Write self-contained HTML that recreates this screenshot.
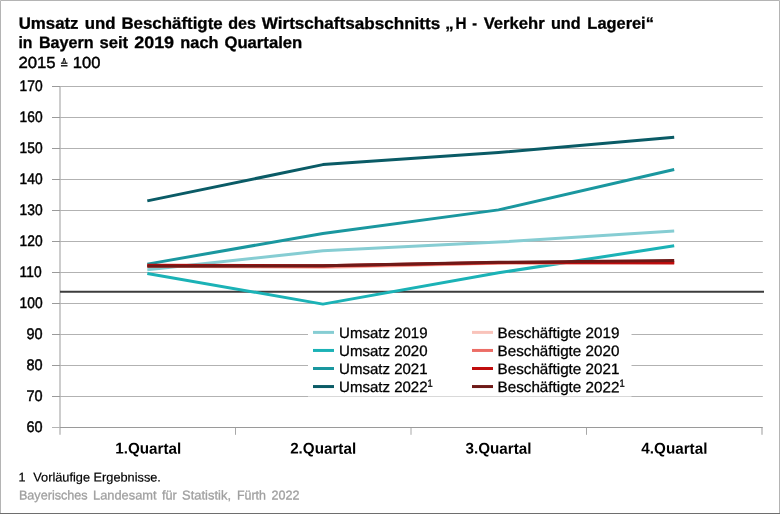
<!DOCTYPE html>
<html lang="de"><head><meta charset="utf-8"><title>Umsatz und Beschäftigte – Verkehr und Lagerei</title>
<style>html,body{margin:0;padding:0;background:#fff}svg{display:block}
text{font-family:"Liberation Sans","DejaVu Sans",sans-serif;fill:#000}
.b{font-weight:bold}</style></head><body>
<svg width="780" height="514" viewBox="0 0 780 514">
<rect x="0" y="0" width="780" height="514" fill="#fff"/>
<path d="M0.5 514 V0.5 H779.5 V514" fill="none" stroke="#b4b4b4" stroke-width="1"/>
<line x1="0" y1="513.5" x2="780" y2="513.5" stroke="#6e6e6e" stroke-width="1"/>
<line x1="60.0" y1="87" x2="60.0" y2="434.8" stroke="#cdcdcd" stroke-width="2"/>
<line x1="762.0" y1="428" x2="762.0" y2="434.8" stroke="#cdcdcd" stroke-width="2"/>
<line x1="52" y1="86.5" x2="60.0" y2="86.5" stroke="#9a9a9a" stroke-width="1"/>
<line x1="60.0" y1="86.5" x2="762.8" y2="86.5" stroke="#b2b2b2" stroke-width="1"/>
<line x1="52" y1="117.5" x2="60.0" y2="117.5" stroke="#9a9a9a" stroke-width="1"/>
<line x1="60.0" y1="117.5" x2="762.8" y2="117.5" stroke="#b2b2b2" stroke-width="1"/>
<line x1="52" y1="148.5" x2="60.0" y2="148.5" stroke="#9a9a9a" stroke-width="1"/>
<line x1="60.0" y1="148.5" x2="762.8" y2="148.5" stroke="#b2b2b2" stroke-width="1"/>
<line x1="52" y1="179.5" x2="60.0" y2="179.5" stroke="#9a9a9a" stroke-width="1"/>
<line x1="60.0" y1="179.5" x2="762.8" y2="179.5" stroke="#b2b2b2" stroke-width="1"/>
<line x1="52" y1="210.5" x2="60.0" y2="210.5" stroke="#9a9a9a" stroke-width="1"/>
<line x1="60.0" y1="210.5" x2="762.8" y2="210.5" stroke="#b2b2b2" stroke-width="1"/>
<line x1="52" y1="241.5" x2="60.0" y2="241.5" stroke="#9a9a9a" stroke-width="1"/>
<line x1="60.0" y1="241.5" x2="762.8" y2="241.5" stroke="#b2b2b2" stroke-width="1"/>
<line x1="52" y1="272.5" x2="60.0" y2="272.5" stroke="#9a9a9a" stroke-width="1"/>
<line x1="60.0" y1="272.5" x2="762.8" y2="272.5" stroke="#b2b2b2" stroke-width="1"/>
<line x1="52" y1="303.5" x2="60.0" y2="303.5" stroke="#9a9a9a" stroke-width="1"/>
<line x1="60.0" y1="303.5" x2="762.8" y2="303.5" stroke="#b2b2b2" stroke-width="1"/>
<line x1="52" y1="334.5" x2="60.0" y2="334.5" stroke="#9a9a9a" stroke-width="1"/>
<line x1="60.0" y1="334.5" x2="762.8" y2="334.5" stroke="#b2b2b2" stroke-width="1"/>
<line x1="52" y1="365.5" x2="60.0" y2="365.5" stroke="#9a9a9a" stroke-width="1"/>
<line x1="60.0" y1="365.5" x2="762.8" y2="365.5" stroke="#b2b2b2" stroke-width="1"/>
<line x1="52" y1="396.5" x2="60.0" y2="396.5" stroke="#9a9a9a" stroke-width="1"/>
<line x1="60.0" y1="396.5" x2="762.8" y2="396.5" stroke="#b2b2b2" stroke-width="1"/>
<line x1="52" y1="427.5" x2="60.0" y2="427.5" stroke="#b4b4b4" stroke-width="1"/>
<line x1="60.0" y1="427.5" x2="762.8" y2="427.5" stroke="#9a9a9a" stroke-width="1"/>
<line x1="235.5" y1="428" x2="235.5" y2="434.8" stroke="#a8a8a8" stroke-width="1"/>
<line x1="411.0" y1="428" x2="411.0" y2="434.8" stroke="#a8a8a8" stroke-width="1"/>
<line x1="586.5" y1="428" x2="586.5" y2="434.8" stroke="#a8a8a8" stroke-width="1"/>
<line x1="60.0" y1="291.75" x2="764" y2="291.75" stroke="#3c3c3c" stroke-width="1.8"/>
<rect x="308" y="320" width="323.5" height="76.5" fill="#fff"/>
<polyline points="147.30,269.71 322.90,250.80 498.55,242.12 674.20,230.96" fill="none" stroke="#86cdd3" stroke-width="3" stroke-linejoin="round"/>
<polyline points="147.30,273.43 322.90,304.12 498.55,272.81 674.20,245.84" fill="none" stroke="#1bb2b6" stroke-width="3" stroke-linejoin="round"/>
<polyline points="147.30,264.13 322.90,233.44 498.55,209.88 674.20,169.58" fill="none" stroke="#1a979f" stroke-width="3" stroke-linejoin="round"/>
<polyline points="147.30,200.89 322.90,164.62 498.55,152.53 674.20,137.34" fill="none" stroke="#0a5b66" stroke-width="3" stroke-linejoin="round"/>
<polyline points="147.30,266.30 322.90,267.54 498.55,263.20 674.20,262.27" fill="none" stroke="#f9c3ba" stroke-width="3" stroke-linejoin="round"/>
<polyline points="147.30,265.68 322.90,266.61 498.55,262.89 674.20,262.58" fill="none" stroke="#ec6d66" stroke-width="3" stroke-linejoin="round"/>
<polyline points="147.30,265.37 322.90,265.68 498.55,262.58 674.20,263.05" fill="none" stroke="#c00d0d" stroke-width="3" stroke-linejoin="round"/>
<polyline points="147.30,266.30 322.90,265.68 498.55,262.27 674.20,260.56" fill="none" stroke="#6e1917" stroke-width="3" stroke-linejoin="round"/>
<line x1="313" y1="332.40" x2="334" y2="332.40" stroke="#86cdd3" stroke-width="3"/>
<line x1="313" y1="350.45" x2="334" y2="350.45" stroke="#1bb2b6" stroke-width="3"/>
<line x1="313" y1="368.50" x2="334" y2="368.50" stroke="#1a979f" stroke-width="3"/>
<line x1="313" y1="386.55" x2="334" y2="386.55" stroke="#0a5b66" stroke-width="3"/>
<line x1="472" y1="332.40" x2="493" y2="332.40" stroke="#f9c3ba" stroke-width="3"/>
<line x1="472" y1="350.45" x2="493" y2="350.45" stroke="#ec6d66" stroke-width="3"/>
<line x1="472" y1="368.50" x2="493" y2="368.50" stroke="#c00d0d" stroke-width="3"/>
<line x1="472" y1="386.55" x2="493" y2="386.55" stroke="#6e1917" stroke-width="3"/>
<text class="b" transform="translate(18.68 28.80) skewY(0.05) scale(1.0197 1)" font-size="16.5" stroke="#000" stroke-width="0.3">Umsatz</text>
<text class="b" transform="translate(84.75 28.80) skewY(0.05) scale(1.0204 1)" font-size="16.5" stroke="#000" stroke-width="0.3">und</text>
<text class="b" transform="translate(121.40 28.80) skewY(0.05) scale(1.0231 1)" font-size="16.5" stroke="#000" stroke-width="0.3">Beschäftigte</text>
<text class="b" transform="translate(228.18 28.80) skewY(0.05) scale(0.9765 1)" font-size="16.5" stroke="#000" stroke-width="0.3">des</text>
<text class="b" transform="translate(261.74 28.80) skewY(0.05) scale(1.0378 1)" font-size="16.5" stroke="#000" stroke-width="0.3">Wirtschaftsabschnitts</text>
<text class="b" transform="translate(445.34 28.80) skewY(0.05) scale(1.0177 1)" font-size="16.5" stroke="#000" stroke-width="0.3">„</text>
<text class="b" transform="translate(455.62 28.80) skewY(0.05) scale(0.9256 1)" font-size="16.5" stroke="#000" stroke-width="0.3">H</text>
<text class="b" transform="translate(472.36 28.80) skewY(0.05) scale(0.8643 1)" font-size="16.5" stroke="#000" stroke-width="0.3">-</text>
<text class="b" transform="translate(483.66 28.80) skewY(0.05) scale(1.0083 1)" font-size="16.5" stroke="#000" stroke-width="0.3">Verkehr</text>
<text class="b" transform="translate(550.90 28.80) skewY(0.05) scale(0.9815 1)" font-size="16.5" stroke="#000" stroke-width="0.3">und</text>
<text class="b" transform="translate(587.37 28.80) skewY(0.05) scale(0.9945 1)" font-size="16.5" stroke="#000" stroke-width="0.3">Lagerei“</text>
<text class="b" transform="translate(18.39 48.00) skewY(0.05) scale(0.9552 1)" font-size="16.5" stroke="#000" stroke-width="0.3">in</text>
<text class="b" transform="translate(38.88 48.00) skewY(0.05) scale(0.9794 1)" font-size="16.5" stroke="#000" stroke-width="0.3">Bayern</text>
<text class="b" transform="translate(99.49 48.00) skewY(0.05) scale(1.0095 1)" font-size="16.5" stroke="#000" stroke-width="0.3">seit</text>
<text class="b" transform="translate(134.17 48.00) skewY(0.05) scale(1.0889 1)" font-size="16.5" stroke="#000" stroke-width="0.3">2019</text>
<text class="b" transform="translate(180.35 48.00) skewY(0.05) scale(0.9922 1)" font-size="16.5" stroke="#000" stroke-width="0.3">nach</text>
<text class="b" transform="translate(224.44 48.00) skewY(0.05) scale(1.0110 1)" font-size="16.5" stroke="#000" stroke-width="0.3">Quartalen</text>
<text transform="translate(18.45 68.00) skewY(0.05) scale(1.0453 1)" font-size="16" stroke="#000" stroke-width="0.45">2015</text>
<text transform="translate(72.84 68.00) skewY(0.05) scale(1.0350 1)" font-size="16" stroke="#000" stroke-width="0.45">100</text>
<text transform="translate(19.57 90.90) skewY(0.05) scale(0.9044 1)" font-size="15.3" stroke="#000" stroke-width="0.45">170</text>
<text transform="translate(19.57 121.90) skewY(0.05) scale(0.9044 1)" font-size="15.3" stroke="#000" stroke-width="0.45">160</text>
<text transform="translate(19.57 152.90) skewY(0.05) scale(0.9044 1)" font-size="15.3" stroke="#000" stroke-width="0.45">150</text>
<text transform="translate(19.57 183.90) skewY(0.05) scale(0.9044 1)" font-size="15.3" stroke="#000" stroke-width="0.45">140</text>
<text transform="translate(19.57 214.90) skewY(0.05) scale(0.9044 1)" font-size="15.3" stroke="#000" stroke-width="0.45">130</text>
<text transform="translate(19.57 245.90) skewY(0.05) scale(0.9044 1)" font-size="15.3" stroke="#000" stroke-width="0.45">120</text>
<text transform="translate(19.57 276.90) skewY(0.05) scale(0.9044 1)" font-size="15.3" stroke="#000" stroke-width="0.45">110</text>
<text transform="translate(19.57 307.90) skewY(0.05) scale(0.9044 1)" font-size="15.3" stroke="#000" stroke-width="0.45">100</text>
<text transform="translate(26.40 338.90) skewY(0.05) scale(0.9473 1)" font-size="15.3" stroke="#000" stroke-width="0.45">90</text>
<text transform="translate(26.40 369.90) skewY(0.05) scale(0.9473 1)" font-size="15.3" stroke="#000" stroke-width="0.45">80</text>
<text transform="translate(26.40 400.90) skewY(0.05) scale(0.9473 1)" font-size="15.3" stroke="#000" stroke-width="0.45">70</text>
<text transform="translate(26.40 431.90) skewY(0.05) scale(0.9473 1)" font-size="15.3" stroke="#000" stroke-width="0.45">60</text>
<text class="b" transform="translate(115.26 453.60) skewY(0.05) scale(0.9830 1)" font-size="15.5">1.Quartal</text>
<text class="b" transform="translate(290.13 453.60) skewY(0.05) scale(0.9830 1)" font-size="15.5">2.Quartal</text>
<text class="b" transform="translate(465.45 453.60) skewY(0.05) scale(0.9830 1)" font-size="15.5">3.Quartal</text>
<text class="b" transform="translate(641.36 453.60) skewY(0.05) scale(0.9830 1)" font-size="15.5">4.Quartal</text>
<text transform="translate(339.08 337.90) skewY(0.05) scale(1.0018 1)" font-size="15" stroke="#000" stroke-width="0.3">Umsatz 2019</text>
<text transform="translate(339.08 355.95) skewY(0.05) scale(1.0018 1)" font-size="15" stroke="#000" stroke-width="0.3">Umsatz 2020</text>
<text transform="translate(339.08 374.00) skewY(0.05) scale(1.0018 1)" font-size="15" stroke="#000" stroke-width="0.3">Umsatz 2021</text>
<text transform="translate(339.08 392.05) skewY(0.05) scale(1.0018 1)" font-size="15" stroke="#000" stroke-width="0.3">Umsatz 2022</text>
<text transform="translate(497.54 337.90) skewY(0.05) scale(1.0150 1)" font-size="15" stroke="#000" stroke-width="0.3">Beschäftigte 2019</text>
<text transform="translate(497.54 355.95) skewY(0.05) scale(1.0150 1)" font-size="15" stroke="#000" stroke-width="0.3">Beschäftigte 2020</text>
<text transform="translate(497.54 374.00) skewY(0.05) scale(1.0150 1)" font-size="15" stroke="#000" stroke-width="0.3">Beschäftigte 2021</text>
<text transform="translate(497.54 392.05) skewY(0.05) scale(1.0150 1)" font-size="15" stroke="#000" stroke-width="0.3">Beschäftigte 2022</text>
<text transform="translate(33.27 481.50) skewY(0.05) scale(1.0135 1)" font-size="12.6" stroke="#000" stroke-width="0.2">Vorläufige Ergebnisse.</text>
<text transform="translate(18.94 499.50) skewY(0.05) scale(0.9869 1)" font-size="12.8" style="fill:#a0a0a0" stroke="#a0a0a0" stroke-width="0.3">Bayerisches</text>
<text transform="translate(93.05 499.50) skewY(0.05) scale(1.0043 1)" font-size="12.8" style="fill:#a0a0a0" stroke="#a0a0a0" stroke-width="0.3">Landesamt</text>
<text transform="translate(161.91 499.50) skewY(0.05) scale(0.9958 1)" font-size="12.8" style="fill:#a0a0a0" stroke="#a0a0a0" stroke-width="0.3">für</text>
<text transform="translate(182.05 499.50) skewY(0.05) scale(1.0136 1)" font-size="12.8" style="fill:#a0a0a0" stroke="#a0a0a0" stroke-width="0.3">Statistik,</text>
<text transform="translate(236.92 499.50) skewY(0.05) scale(0.9716 1)" font-size="12.8" style="fill:#a0a0a0" stroke="#a0a0a0" stroke-width="0.3">Fürth</text>
<text transform="translate(271.56 499.50) skewY(0.05) scale(0.9826 1)" font-size="12.8" style="fill:#a0a0a0" stroke="#a0a0a0" stroke-width="0.3">2022</text>
<text transform="translate(59.95 68.6) skewY(0.05) scale(0.77 1)" font-size="12.9" style="font-family:'DejaVu Sans',sans-serif" stroke="#000" stroke-width="0.3">≙</text>
<text transform="translate(427.6 386.8) skewY(0.05) scale(0.9 1)" font-size="10.4" stroke="#000" stroke-width="0.3">1</text>
<text transform="translate(619.4 386.8) skewY(0.05) scale(0.9 1)" font-size="10.4" stroke="#000" stroke-width="0.3">1</text>
<text transform="translate(18.6 481.5) skewY(0.05)" font-size="12.6" stroke="#000" stroke-width="0.2">1</text>
</svg></body></html>
